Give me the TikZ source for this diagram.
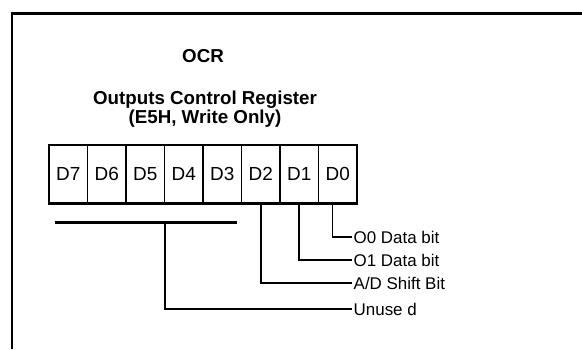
\documentclass[tikz,border=0pt]{standalone}
\usepackage{fontspec}
\setmainfont{Liberation Sans}
\usetikzlibrary{positioning}
\begin{document}
\begin{tikzpicture}[x=1bp,y=1bp,
  cell/.style={draw,line width=1.2bp,minimum width=38.5bp,minimum height=58bp,
    inner sep=0pt,font=\fontsize{19}{21}\selectfont},
  bitlbl/.style={anchor=west,inner sep=1.5bp,font=\fontsize{17}{19}\selectfont},
  title/.style={align=center,font=\fontsize{18.8}{18.5}\selectfont\bfseries}]%
% OCR register, E5H
\ifx\ocrlw\undefined\newdimen\ocrlw\fi
\global\def\ocrdraw{\draw[line width=\ocrlw]}
\useasboundingbox (0,0) rectangle (582,-349);
\ocrlw=2.6bp
\ocrdraw (12,-349)
 --(12,-13.5)
 --(582,-13.5);
\node[title] (ocr) at (203,-56) {OCR};
\node[title] (name) at (205,-109) {Outputs Control Register\\(E5H, Write Only)};
\node[cell] (d7) at (68.25,-174) {D7};
\node[cell] (d6) at (106.75,-174) {D6};
\node[cell] (d5) at (145.25,-174) {D5};
\node[cell] (d4) at (183.75,-174) {D4};
\node[cell] (d3) at (222.25,-174) {D3};
\node[cell] (d2) at (260.75,-174) {D2};
\node[cell] (d1) at (299.25,-174) {D1};
\node[cell] (d0) at (337.75,-174) {D0};
\ocrlw=2.2bp
\ocrdraw (d7.south west)
 --(d0.south east);
\node[bitlbl] (o0) at (352,-237) {O0 Data bit};
\node[bitlbl] (o1) at (352,-260) {O1 Data bit};
\node[bitlbl] (ad) at (352,-283) {A/D Shift Bit};
\node[bitlbl] (unused) at (352,-309) {Unuse d};
\coordinate (brkl) at (55,-222);
\coordinate (brkr) at (237,-222);
\coordinate (brk) at (165,-222);
\ocrlw=3bp
\ocrdraw (brkl)
 --(brkr);
\ocrlw=2bp
\ocrdraw (brk)
 |-(unused.west);
\ocrdraw (d2.south)
 |-(ad.west);
\ocrdraw (d1.south)
 |-(o1.west);
\ocrlw=0.8bp
\ocrdraw ([xshift=-5bp]d0.south)
 --([xshift=-5bp]d0.south |- o0.west);
\ocrlw=2bp
\ocrdraw ([xshift=-5.4bp]d0.south |- o0.west)
 --(o0.west);
\end{tikzpicture}
\end{document}
